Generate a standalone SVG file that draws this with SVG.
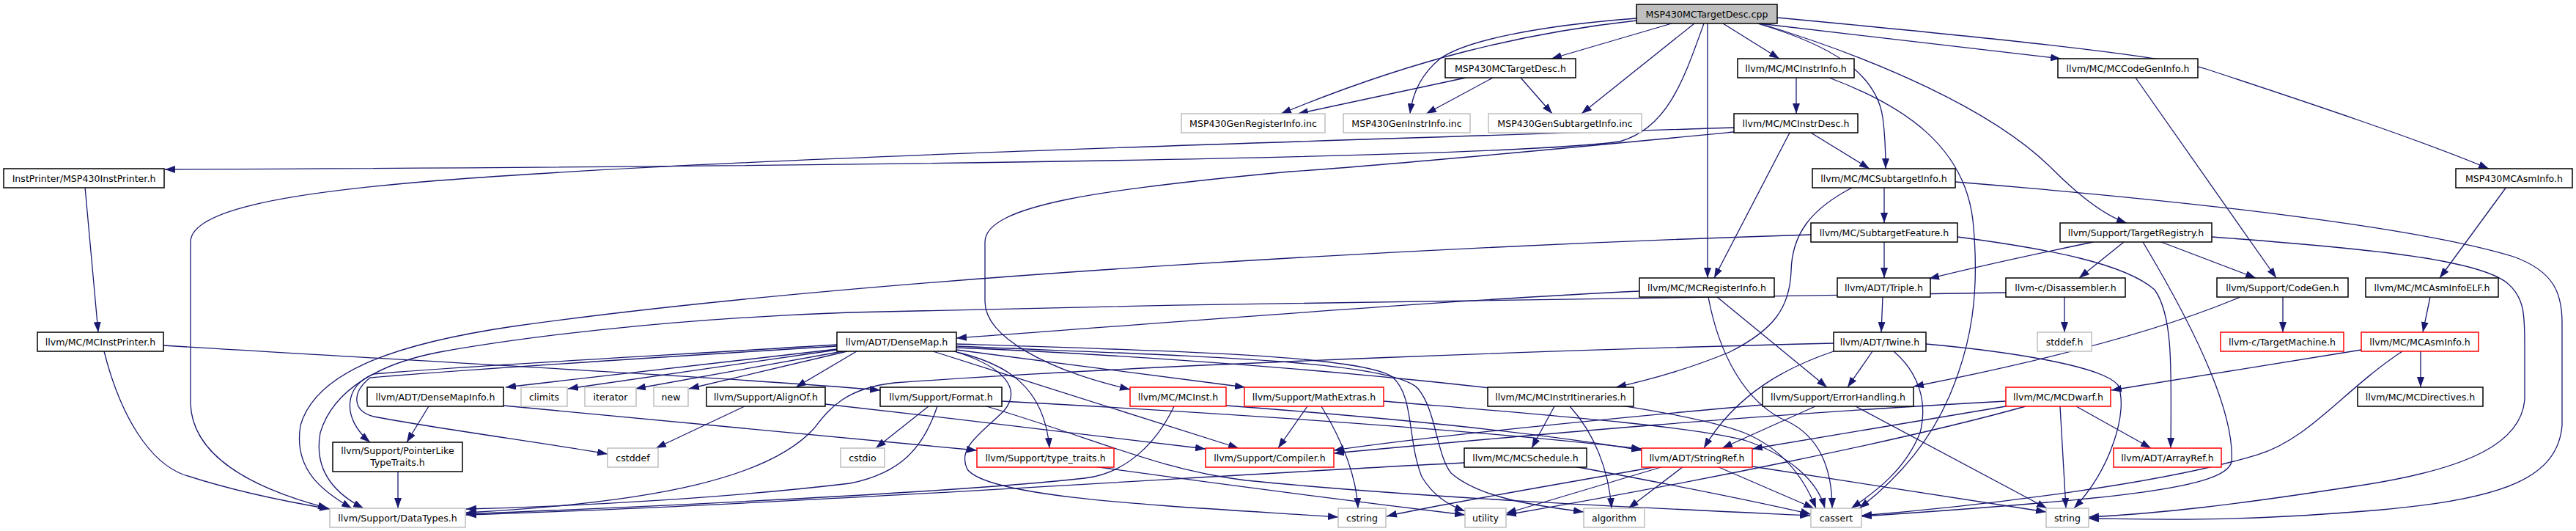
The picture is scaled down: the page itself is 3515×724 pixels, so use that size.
<svg xmlns="http://www.w3.org/2000/svg" width="3515" height="724" viewBox="0 0 3515 724">
<defs>
<marker id="ah" viewBox="0 0 14 10" refX="14" refY="5" markerWidth="14" markerHeight="10" markerUnits="userSpaceOnUse" orient="auto"><path d="M0,0 L14,5 L0,10 z" fill="#191970"/></marker>
</defs>
<style>
rect{fill:#fff;stroke:#000;stroke-width:1.5}
.g rect{stroke:#bfbfbf}
.r rect{stroke:#ff0000}
.root rect{fill:#bfbfbf}
text{font-family:"DejaVu Sans",sans-serif;font-size:12.6px;fill:#000;text-anchor:middle}
#edges path{fill:none;stroke:#191970;stroke-width:1.3;marker-end:url(#ah)}
</style>
<rect x="0" y="0" width="3515" height="724" style="fill:#fff;stroke:none"/>
<g id="edges">
<path d="M2281,32 L2117,80"/>
<path d="M2233,28 C2080,45 1930,80 1748,155"/>
<path d="M2233,25 C2100,35 2000,55 1965,80 C1937,103 1927,130 1924,155"/>
<path d="M2312,32 L2158,155"/>
<path d="M2351,32 L2428,80"/>
<path d="M2330,32 L2330,379"/>
<path d="M2325,32 C2297,110 2275,175 2210,193 C2050,215 1200,227 225,231"/>
<path d="M2398,32 C2500,62 2560,100 2569,160 C2573,190 2573,210 2573,230"/>
<path d="M2400,32 L2812,80"/>
<path d="M2425,24 C2700,50 2950,75 3010,94 C3150,140 3300,190 3396,230"/>
<path d="M2398,31 C2560,80 2720,150 2800,230 C2840,270 2875,295 2902,304"/>
<path d="M2000,106 L1771,155"/>
<path d="M2037,106 L1946,155"/>
<path d="M2075,106 L2118,155"/>
<path d="M2451,106 L2451,155"/>
<path d="M2496,106 C2600,145 2680,200 2692,300 C2702,400 2690,470 2660,540 C2630,610 2580,660 2537,693"/>
<path d="M2471,181 L2551,230"/>
<path d="M2442,181 L2339,379"/>
<path d="M2366,174 C1800,192 1000,215 600,246 C400,262 260,285 260,330 L260,550 C262,620 340,665 448,693"/>
<path d="M2366,180 C2200,196 1900,225 1760,234 C1500,258 1344,280 1344,330 L1344,411 C1344,460 1430,505 1542,531"/>
<path d="M2571,255 L2571,304"/>
<path d="M2529,255 C2470,285 2445,320 2444,370 C2442,420 2420,450 2360,480 C2300,505 2250,518 2205,528"/>
<path d="M2668,248 C3000,275 3300,310 3430,350 C3485,370 3496,400 3496,440 L3496,580 C3490,650 3420,680 3250,695 C3050,712 2950,708 2850,707"/>
<path d="M2571,330 L2571,379"/>
<path d="M2671,323 C2800,340 2900,360 2940,395 C2965,430 2963,500 2962,611"/>
<path d="M2471,320 C2000,335 1200,375 700,445 C530,470 430,510 410,580 C400,640 440,670 480,693"/>
<path d="M2237,397 C2000,408 1700,432 1305,461"/>
<path d="M2343,405 L2493,528"/>
<path d="M2331,405 C2345,480 2380,550 2440,575 C2490,600 2500,650 2500,693"/>
<path d="M2914,106 L3106,379"/>
<path d="M3420,255 L3329,379"/>
<path d="M2856,330 C2760,350 2680,368 2632,380"/>
<path d="M2898,330 L2837,379"/>
<path d="M2949,330 L3078,379"/>
<path d="M2924,330 C2990,440 3050,560 3045,630 C3035,665 2900,680 2540,704"/>
<path d="M3018,323 C3250,340 3380,355 3420,385 C3445,405 3445,430 3445,470 L3445,545 C3440,600 3380,640 3200,665 C3050,688 2950,700 2850,705"/>
<path d="M2569,405 L2567,453"/>
<path d="M2817,405 L2817,453"/>
<path d="M2737,399 C2300,405 1700,412 1160,426 C900,435 700,462 600,480 C520,495 455,530 437,590 C428,640 455,672 496,693"/>
<path d="M3115,405 L3115,453"/>
<path d="M3057,405 C2950,450 2800,490 2611,527"/>
<path d="M3316,405 L3306,453"/>
<path d="M2555,479 L2521,528"/>
<path d="M2502,479 C2440,500 2370,535 2325,611"/>
<path d="M2584,479 C2620,510 2630,550 2620,590 C2600,640 2560,670 2526,693"/>
<path d="M2628,469 C2750,480 2870,500 2890,525 C2905,560 2880,640 2830,693"/>
<path d="M2502,468 C2200,475 1600,495 1220,522 C1150,530 1130,560 1110,585 C1050,650 900,685 636,699"/>
<path d="M1142,476 L690,528"/>
<path d="M1142,477 L775,530"/>
<path d="M1150,479 L867,530"/>
<path d="M1156,479 L940,530"/>
<path d="M1169,479 L1086,528"/>
<path d="M1142,470 C900,485 620,500 510,510 C470,525 465,570 505,603"/>
<path d="M1142,472 C900,487 620,505 505,515 C480,535 480,560 510,568 C600,585 750,605 829,619"/>
<path d="M1305,480 C1370,495 1425,525 1432,611"/>
<path d="M1302,479 C1370,500 1395,530 1370,560 C1340,590 1305,610 1320,640 C1350,680 1600,690 1826,705"/>
<path d="M1273,479 L1690,611"/>
<path d="M1305,477 L1699,528"/>
<path d="M1305,469 C1600,478 1860,485 1900,514 C1930,540 1920,600 1940,650 C1955,675 1975,688 1999,697"/>
<path d="M1305,472 C1600,485 1900,490 1935,530 C1960,560 1960,620 1980,645 C2020,680 2100,690 2161,698"/>
<path d="M1305,474 C1700,490 2250,540 2380,590 C2440,615 2465,660 2478,693"/>
<path d="M585,554 L555,603"/>
<path d="M687,553 L1333,614"/>
<path d="M1016,554 L895,611"/>
<path d="M1126,551 C1300,570 1500,595 1645,612"/>
<path d="M1267,554 L1195,611"/>
<path d="M1279,554 C1260,610 1230,645 1160,659 C1000,678 800,690 636,694"/>
<path d="M1367,547 C1700,565 2000,585 2240,612"/>
<path d="M1346,554 C1500,600 1580,640 1700,655 C1950,680 2300,695 2470,703"/>
<path d="M1602,554 C1580,600 1540,645 1480,652 C1300,672 900,690 636,701"/>
<path d="M1673,553 C1900,570 2100,590 2240,614"/>
<path d="M1784,554 L1744,611"/>
<path d="M1803,554 C1825,590 1850,640 1853,693"/>
<path d="M1888,547 C2100,565 2300,580 2380,600 C2440,620 2480,655 2490,693"/>
<path d="M2121,554 L2090,611"/>
<path d="M2142,554 C2175,590 2195,640 2199,693"/>
<path d="M2477,554 L2350,611"/>
<path d="M2405,552 C2200,570 1950,595 1820,614"/>
<path d="M2532,554 L2793,693"/>
<path d="M2737,547 C2400,565 2100,592 1820,618"/>
<path d="M2737,554 L2391,612"/>
<path d="M2833,554 L2935,611"/>
<path d="M2811,554 L2819,693"/>
<path d="M2764,554 C2600,600 2300,660 2055,702"/>
<path d="M3278,479 C3200,530 3150,600 3080,620 C2950,660 2700,690 2540,703"/>
<path d="M3222,477 L2881,532"/>
<path d="M3303,479 L3303,528"/>
<path d="M543,643 L543,693"/>
<path d="M1998,631 C1700,645 1100,687 636,702"/>
<path d="M2148,636 C2250,655 2380,680 2471,701"/>
<path d="M2262,636 C2100,665 1950,690 1892,704"/>
<path d="M2270,636 L2055,700"/>
<path d="M2297,636 L2222,693"/>
<path d="M2343,636 L2475,693"/>
<path d="M2391,636 L2792,698"/>
<path d="M1493,636 C1700,665 1900,690 1999,702"/>
<path d="M116,255 L134,453"/>
<path d="M142,479 C165,570 205,630 250,647 C320,670 390,684 450,694"/>
<path d="M223,471 C600,494 1000,515 1201,532"/>
</g>
<g id="n0" class="root"><rect x="2233" y="6" width="192" height="26"/><text x="2329" y="23.5">MSP430MCTargetDesc.cpp</text></g>
<g id="n1"><rect x="1972" y="80" width="178" height="26"/><text x="2061" y="97.5">MSP430MCTargetDesc.h</text></g>
<g id="n2" class="g"><rect x="1612" y="155" width="196" height="26"/><text x="1710" y="172.5">MSP430GenRegisterInfo.inc</text></g>
<g id="n3" class="g"><rect x="1833" y="155" width="173" height="26"/><text x="1919.5" y="172.5">MSP430GenInstrInfo.inc</text></g>
<g id="n4" class="g"><rect x="2031" y="155" width="209" height="26"/><text x="2135.5" y="172.5">MSP430GenSubtargetInfo.inc</text></g>
<g id="n5"><rect x="5" y="230" width="219" height="26"/><text x="114.5" y="247.5">InstPrinter/MSP430InstPrinter.h</text></g>
<g id="n6"><rect x="51" y="453" width="172" height="26"/><text x="137" y="470.5">llvm/MC/MCInstPrinter.h</text></g>
<g id="n7"><rect x="2371" y="80" width="159" height="26"/><text x="2450.5" y="97.5">llvm/MC/MCInstrInfo.h</text></g>
<g id="n8"><rect x="2366" y="155" width="169" height="26"/><text x="2450.5" y="172.5">llvm/MC/MCInstrDesc.h</text></g>
<g id="n9"><rect x="2473" y="230" width="195" height="26"/><text x="2570.5" y="247.5">llvm/MC/MCSubtargetInfo.h</text></g>
<g id="n10"><rect x="2471" y="304" width="200" height="26"/><text x="2571" y="321.5">llvm/MC/SubtargetFeature.h</text></g>
<g id="n11"><rect x="2237" y="379" width="184" height="26"/><text x="2329" y="396.5">llvm/MC/MCRegisterInfo.h</text></g>
<g id="n12"><rect x="2808" y="80" width="191" height="26"/><text x="2903.5" y="97.5">llvm/MC/MCCodeGenInfo.h</text></g>
<g id="n13"><rect x="3351" y="230" width="159" height="26"/><text x="3430.5" y="247.5">MSP430MCAsmInfo.h</text></g>
<g id="n14"><rect x="2811" y="304" width="207" height="26"/><text x="2914.5" y="321.5">llvm/Support/TargetRegistry.h</text></g>
<g id="n15"><rect x="2507" y="379" width="127" height="26"/><text x="2570.5" y="396.5">llvm/ADT/Triple.h</text></g>
<g id="n16"><rect x="2737" y="379" width="163" height="26"/><text x="2818.5" y="396.5">llvm-c/Disassembler.h</text></g>
<g id="n17"><rect x="3025" y="379" width="179" height="26"/><text x="3114.5" y="396.5">llvm/Support/CodeGen.h</text></g>
<g id="n18"><rect x="3228" y="379" width="181" height="26"/><text x="3318.5" y="396.5">llvm/MC/MCAsmInfoELF.h</text></g>
<g id="n19"><rect x="1142" y="453" width="163" height="26"/><text x="1223.5" y="470.5">llvm/ADT/DenseMap.h</text></g>
<g id="n20"><rect x="2502" y="453" width="126" height="26"/><text x="2565" y="470.5">llvm/ADT/Twine.h</text></g>
<g id="n21" class="g"><rect x="2780" y="453" width="74" height="26"/><text x="2817" y="470.5">stddef.h</text></g>
<g id="n22" class="r"><rect x="3030" y="453" width="168" height="26"/><text x="3114" y="470.5">llvm-c/TargetMachine.h</text></g>
<g id="n23" class="r"><rect x="3222" y="453" width="160" height="26"/><text x="3302" y="470.5">llvm/MC/MCAsmInfo.h</text></g>
<g id="n24"><rect x="501" y="528" width="186" height="26"/><text x="594" y="545.5">llvm/ADT/DenseMapInfo.h</text></g>
<g id="n25" class="g"><rect x="711" y="528" width="63" height="26"/><text x="742.5" y="545.5">climits</text></g>
<g id="n26" class="g"><rect x="798" y="528" width="70" height="26"/><text x="833" y="545.5">iterator</text></g>
<g id="n27" class="g"><rect x="892" y="528" width="47" height="26"/><text x="915.5" y="545.5">new</text></g>
<g id="n28"><rect x="964" y="528" width="162" height="26"/><text x="1045" y="545.5">llvm/Support/AlignOf.h</text></g>
<g id="n29"><rect x="1201" y="528" width="166" height="26"/><text x="1284" y="545.5">llvm/Support/Format.h</text></g>
<g id="n30" class="r"><rect x="1542" y="528" width="131" height="26"/><text x="1607.5" y="545.5">llvm/MC/MCInst.h</text></g>
<g id="n31" class="r"><rect x="1698" y="528" width="190" height="26"/><text x="1793" y="545.5">llvm/Support/MathExtras.h</text></g>
<g id="n32"><rect x="2030" y="528" width="199" height="26"/><text x="2129.5" y="545.5">llvm/MC/MCInstrItineraries.h</text></g>
<g id="n33"><rect x="2405" y="528" width="206" height="26"/><text x="2508" y="545.5">llvm/Support/ErrorHandling.h</text></g>
<g id="n34" class="r"><rect x="2737" y="528" width="143" height="26"/><text x="2808.5" y="545.5">llvm/MC/MCDwarf.h</text></g>
<g id="n35"><rect x="3217" y="528" width="171" height="26"/><text x="3302.5" y="545.5">llvm/MC/MCDirectives.h</text></g>
<g id="n36"><rect x="454" y="603" width="177" height="40"/><text x="542.5" y="618.5">llvm/Support/PointerLike</text><text x="542.5" y="634.5">TypeTraits.h</text></g>
<g id="n37" class="g"><rect x="829" y="611" width="69" height="26"/><text x="863.5" y="628.5">cstddef</text></g>
<g id="n38" class="g"><rect x="1147" y="611" width="60" height="26"/><text x="1177" y="628.5">cstdio</text></g>
<g id="n39" class="r"><rect x="1333" y="611" width="187" height="26"/><text x="1426.5" y="628.5">llvm/Support/type_traits.h</text></g>
<g id="n40" class="r"><rect x="1645" y="611" width="175" height="26"/><text x="1732.5" y="628.5">llvm/Support/Compiler.h</text></g>
<g id="n41"><rect x="1998" y="611" width="167" height="26"/><text x="2081.5" y="628.5">llvm/MC/MCSchedule.h</text></g>
<g id="n42" class="r"><rect x="2240" y="611" width="151" height="26"/><text x="2315.5" y="628.5">llvm/ADT/StringRef.h</text></g>
<g id="n43" class="r"><rect x="2884" y="611" width="147" height="26"/><text x="2957.5" y="628.5">llvm/ADT/ArrayRef.h</text></g>
<g id="n44" class="g"><rect x="450" y="693" width="185" height="26"/><text x="542.5" y="710.5">llvm/Support/DataTypes.h</text></g>
<g id="n45" class="g"><rect x="1826" y="693" width="65" height="26"/><text x="1858.5" y="710.5">cstring</text></g>
<g id="n46" class="g"><rect x="1999" y="693" width="56" height="26"/><text x="2027" y="710.5">utility</text></g>
<g id="n47" class="g"><rect x="2161" y="693" width="83" height="26"/><text x="2202.5" y="710.5">algorithm</text></g>
<g id="n48" class="g"><rect x="2471" y="693" width="69" height="26"/><text x="2505.5" y="710.5">cassert</text></g>
<g id="n49" class="g"><rect x="2792" y="693" width="58" height="26"/><text x="2821" y="710.5">string</text></g>
</svg>
